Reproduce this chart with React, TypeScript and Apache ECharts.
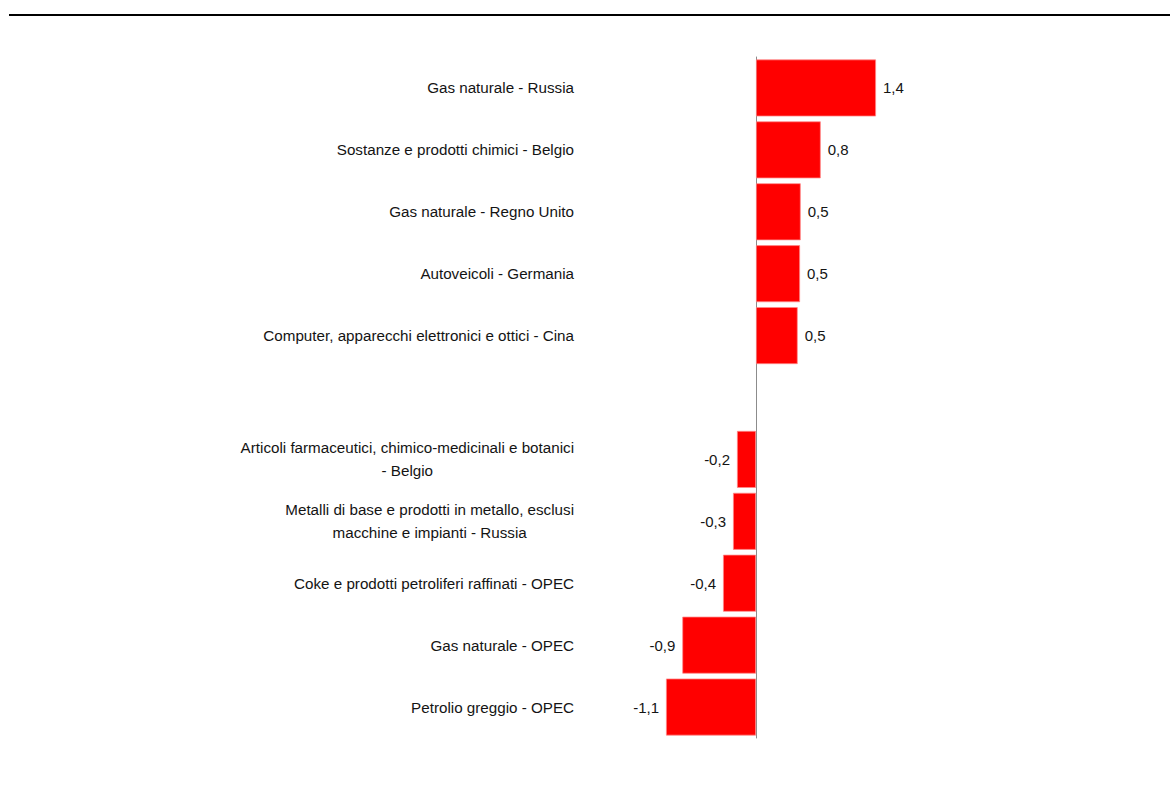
import React, { useEffect, useRef } from "react";
import * as echarts from "echarts";

// Categories top to bottom; the empty entry separates gains from losses.
const categories: string[] = [
  "Gas naturale - Russia",
  "Sostanze e prodotti chimici - Belgio",
  "Gas naturale - Regno Unito",
  "Autoveicoli - Germania",
  "Computer, apparecchi elettronici e ottici - Cina",
  "",
  "Articoli farmaceutici, chimico-medicinali e botanici\n- Belgio",
  "Metalli di base e prodotti in metallo, esclusi\nmacchine e impianti - Russia",
  "Coke e prodotti petroliferi raffinati - OPEC",
  "Gas naturale - OPEC",
  "Petrolio greggio - OPEC",
];

// Contributions (percentage points); null marks the spacer row.
const values: (number | null)[] = [
  1.42, 0.766, 0.529, 0.521, 0.493, null, -0.225, -0.272, -0.39, -0.872, -1.065,
];

const FONT = "'Liberation Sans Narrow', 'Arial Narrow', 'Liberation Sans', Arial, sans-serif";
const RED = "#ff0000";
const TEXT = "#141414";

const fmt = (v: number) => v.toFixed(1).replace(".", ",");

export default function App() {
  const ref = useRef<HTMLDivElement>(null);

  useEffect(() => {
    if (!ref.current) return;
    const chart = echarts.init(ref.current, undefined, { renderer: "svg" });

    const data = values.map((v) =>
      v === null
        ? { value: null }
        : {
            value: v,
            label: { position: v >= 0 ? "right" : "left" },
          }
    );

    chart.setOption({
      animation: false,
      backgroundColor: "#ffffff",
      graphic: [
        {
          type: "line",
          shape: { x1: 9, y1: 15, x2: 1170, y2: 15 },
          style: { stroke: "#000000", lineWidth: 2 },
        },
      ],
      grid: {
        left: 654.6,
        width: 236.6,
        top: 57,
        height: 681,
        containLabel: false,
      },
      xAxis: {
        type: "value",
        min: -1.2,
        max: 1.6,
        show: false,
        splitLine: { show: false },
      },
      yAxis: {
        type: "category",
        inverse: true,
        data: categories,
        axisLine: { show: true, onZero: true, lineStyle: { color: "#8c8c8c", width: 1 } },
        axisTick: { show: false },
        axisLabel: {
          margin: 80.6,
          align: "right",
          fontFamily: FONT,
          fontSize: 15.2,
          color: TEXT,
          lineHeight: 23,
          formatter: (v: string) =>
            v
              .split("\n")
              .map((line) => `{c|${line}}`)
              .join("\n"),
          rich: {
            c: {
              align: "center",
              fontFamily: FONT,
              fontSize: 15.2,
              color: TEXT,
              lineHeight: 23,
            },
          },
        },
      },
      series: [
        {
          type: "bar",
          data,
          barCategoryGap: "8%",
          itemStyle: { color: RED, borderColor: "#ff8a8a", borderWidth: 0.75 },
          label: {
            show: true,
            distance: 7,
            fontFamily: FONT,
            fontSize: 15,
            color: TEXT,
            formatter: (p: any) => fmt(p.value as number),
          },
        },
      ],
    });

    return () => chart.dispose();
  }, []);

  return (
    <div
      ref={ref}
      style={{ position: "absolute", left: 0, top: 0, width: 1170, height: 812 }}
    />
  );
}
